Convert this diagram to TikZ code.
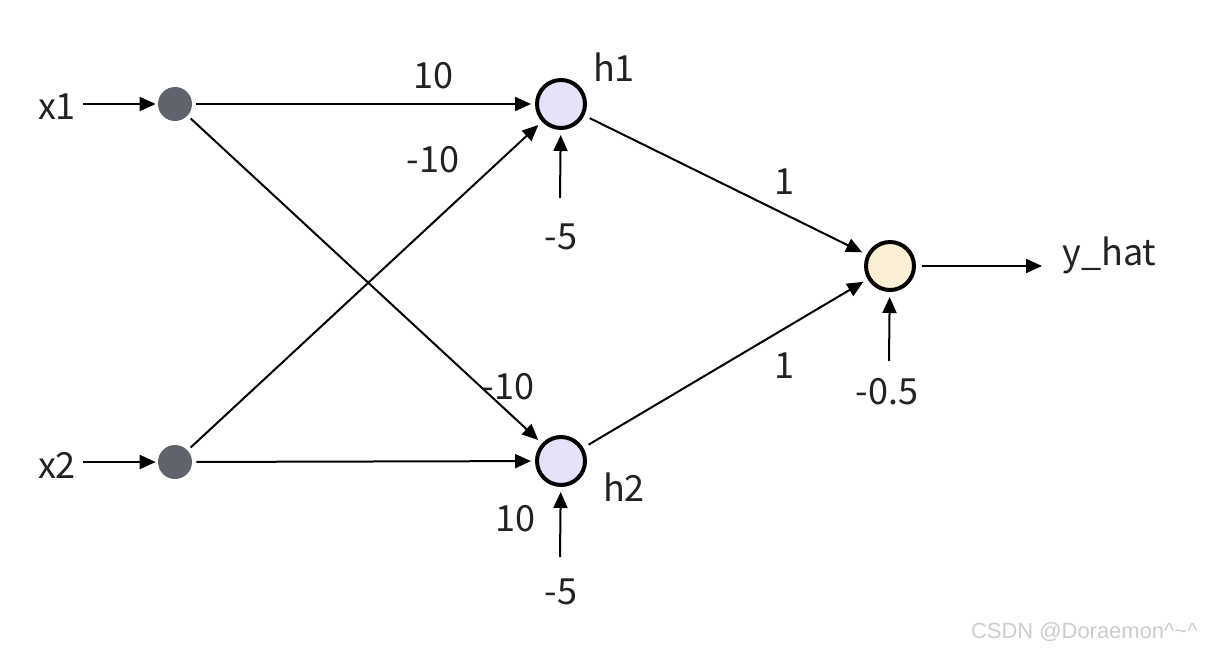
\documentclass[tikz,border=0pt]{standalone}
\usepackage{fontspec}
\setmainfont{Noto Sans CJK SC}
\newfontfamily\markfont{Liberation Sans}
\usetikzlibrary{calc,positioning,arrows.meta}
\definecolor{InputGray}{HTML}{5F636B}
\definecolor{HiddenLilac}{HTML}{E6E2FA}
\definecolor{OutCream}{HTML}{FBF0D6}
\definecolor{MarkGray}{HTML}{CDCDCD}
\definecolor{TextDark}{HTML}{222222}

\tikzset{
  innode/.style={circle, fill=InputGray, minimum size=0.68cm, inner sep=0pt},
  hidnode/.style={circle, draw=black, line width=0.08cm, fill=HiddenLilac, minimum size=0.96cm, inner sep=0pt},
  outnode/.style={circle, draw=black, line width=0.08cm, fill=OutCream, minimum size=0.96cm, inner sep=0pt},
  wire/.style={line width=0.04cm, -{Triangle[length=0.32cm,width=0.28cm]}},
  txt/.style={text=TextDark, font=\fontsize{20.5}{24}\selectfont, inner sep=0pt}
}

\begin{document}
\begin{tikzpicture}[x=0.02cm,y=-0.02cm]
  \useasboundingbox (0,0) rectangle (1216,650);

  % inputs
  \node[innode] (in1) at (175,104) {};
  \node[innode] (in2) at (175,462) {};
  \node[txt] (x1) at (57,107) {x1};
  \node[txt] (x2) at (57,465) {x2};

  % hidden layer and output
  \node[hidnode] (h1) at (561,104) {};
  \node[hidnode] (h2) at (561,461) {};
  \node[outnode] (out) at (890,266) {};
  \node[txt] (h1lab) at (614,67) {h1};
  \node[txt] (h2lab) at (624,487) {h2};
  \node[txt, anchor=west] (yhat) at (1062,255) {y\_hat};

  % biases
  \node[txt] (b1) at (561,237) {-5};
  \node[txt] (b2) at (561,592) {-5};
  \node[txt] (b3) at (887,392) {-0.5};
  \coordinate (b1s) at (560,198);
  \coordinate (b2s) at (560,557);
  \coordinate (b3s) at (889,361);

  \draw[wire, shorten <=0.14cm, shorten >=0.04cm] (x1.east |- in1) -- (in1);
  \draw[wire, shorten <=0.14cm, shorten >=0.04cm] (x2.east |- in2) -- (in2);
  \draw[wire, shorten <=0.08cm, shorten >=0.08cm] (in1) -- (h1);
  \draw[wire, shorten <=0.08cm, shorten >=0.1cm] (in1) -- (h2);
  \draw[wire, shorten <=0.08cm, shorten >=0.1cm] (in2) -- (h1);
  \draw[wire, shorten <=0.08cm, shorten >=0.08cm] (in2) -- (h2);
  \draw[wire, shorten <=0.12cm, shorten >=0.1cm] (h1) -- (out);
  \draw[wire, shorten <=0.12cm, shorten >=0.1cm] (h2) -- (out);
  \draw[wire, shorten <=0.12cm] (out) -- (1042,266);
  \draw[wire, shorten >=0.1cm] (b1s) -- (h1);
  \draw[wire, shorten >=0.1cm] (b2s) -- (h2);
  \draw[wire, shorten >=0.1cm] (b3s) -- (out);

  % weights
  \node[txt] (w11) at (433,76) {10};
  \node[txt] (w21) at (433,160) {-10};
  \node[txt] (w12) at (508,387) {-10};
  \node[txt] (w22) at (515,519) {10};
  \node[txt] (v1) at (784,182) {1};
  \node[txt] (v2) at (784,366) {1};

  \node[text=MarkGray, font=\markfont\fontsize{12.5}{14}\selectfont, anchor=east, inner sep=0pt]
    (mark) at (1198,632) {CSDN @Doraemon\textasciicircum\textasciitilde\textasciicircum};
\end{tikzpicture}
\end{document}
